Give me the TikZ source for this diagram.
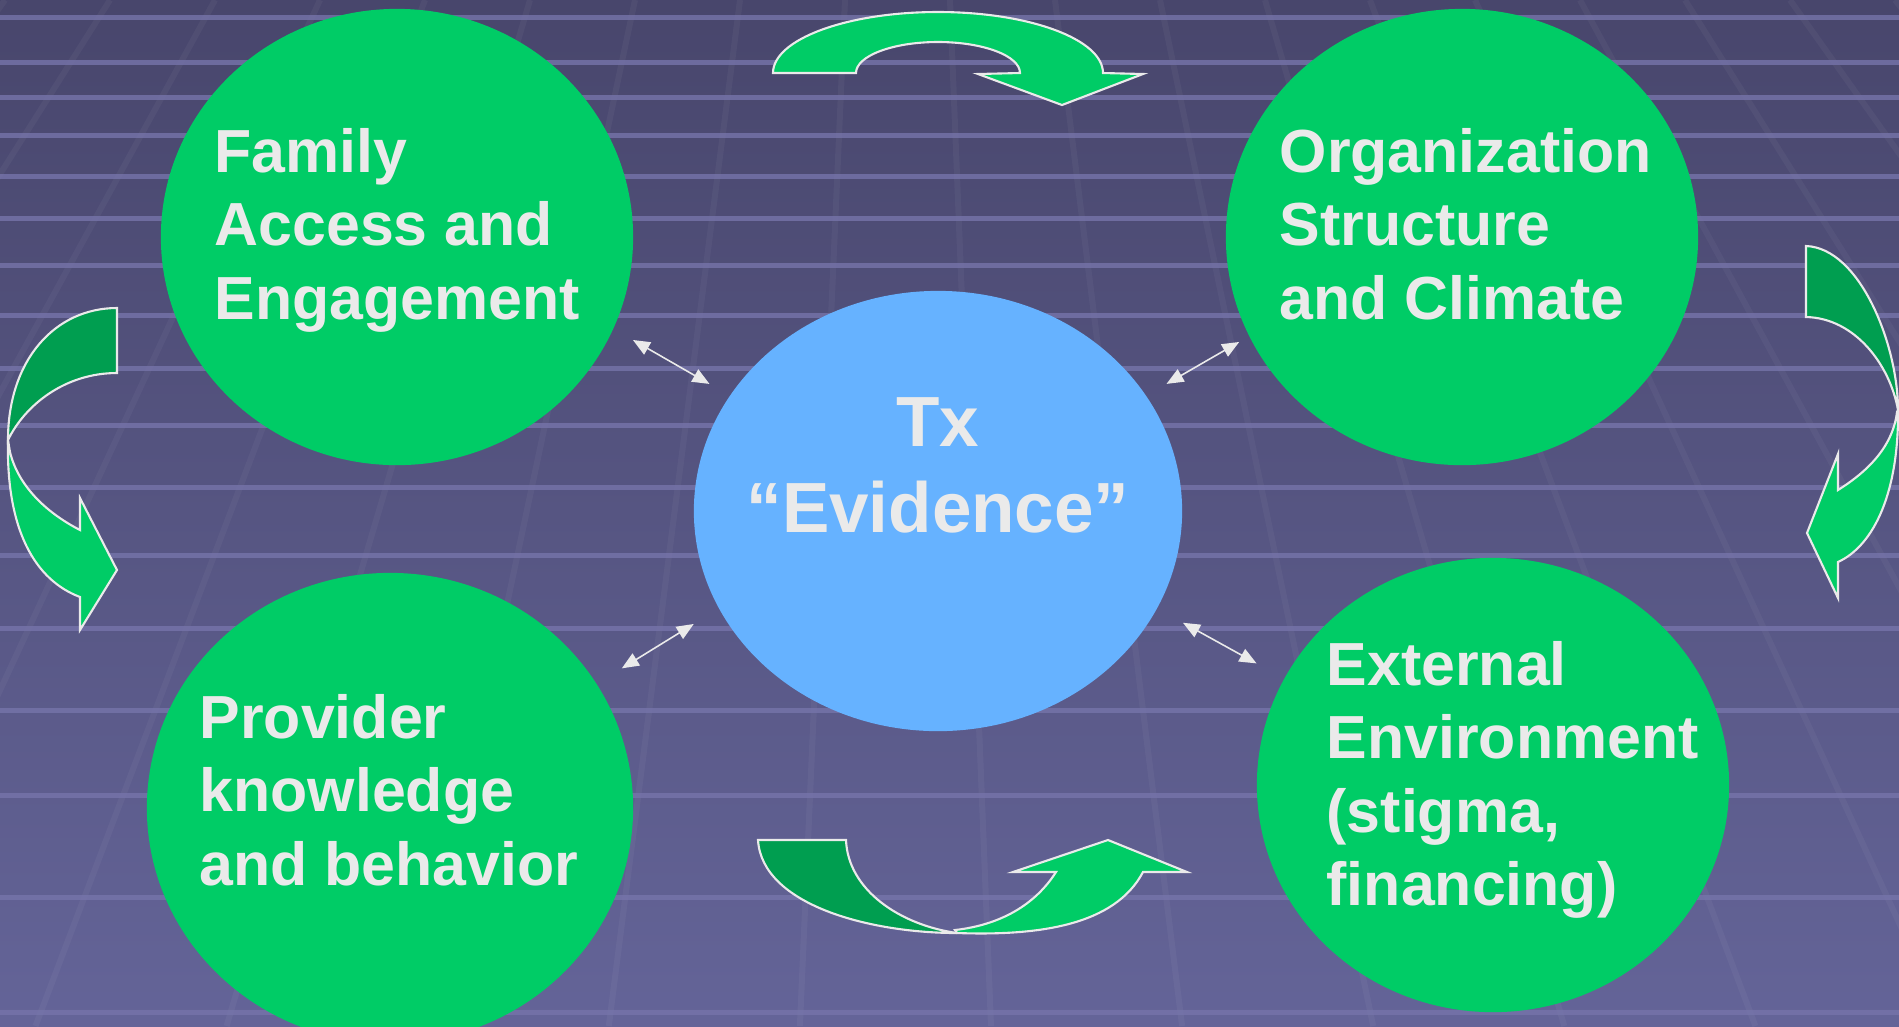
\documentclass[tikz,border=0pt]{standalone}
\usepackage{fontspec}
\setmainfont{Liberation Sans}
\usetikzlibrary{shapes.geometric, arrows.meta}

\definecolor{bgtop}{RGB}{72,70,108}
\definecolor{bgbot}{RGB}{100,100,152}
\definecolor{gridline}{RGB}{118,116,170}
\definecolor{bubgreen}{RGB}{0,204,102}
\definecolor{darkgreen}{RGB}{0,158,80}
\definecolor{evblue}{RGB}{102,178,255}
\definecolor{paletext}{RGB}{234,234,234}

\tikzset{
  bubble/.style={ellipse, fill=bubgreen, inner sep=0pt},
  bubtext/.style={text=paletext, align=left, inner sep=0pt, font=\fontsize{17.3pt}{20.8pt}\selectfont\bfseries},
  evtext/.style={text=paletext, align=center, inner sep=0pt, font=\fontsize{20.2pt}{24.5pt}\selectfont\bfseries},
  link/.style={{Triangle[length=0.17cm,width=0.14cm]}-{Triangle[length=0.17cm,width=0.14cm]}, draw=paletext, line width=0.45pt},
  cyc/.style={fill=bubgreen, draw=paletext, line width=0.6pt},
  cycback/.style={cyc, fill=darkgreen},
}

\begin{document}
\begin{tikzpicture}[x=0.01cm, y=-0.01cm]
        % background
        \useasboundingbox (0,0) rectangle (1899,1026);
        \fill[top color=bgtop, bottom color=bgbot] (0,0) rectangle (1899,1026);
        \begin{scope}
            \clip (0,0) rectangle (1899,1026);
            \foreach \t in {-100,5,...,2000}
                \draw[white, opacity=0.04, line width=0.06cm] (\t,0) -- ({900+1.82*(\t-900)},1026);
            \foreach \h in {17,62,97,135,176,218,265,315,368,425,487,555,628,710,795,897,1012}
                \draw[gridline, opacity=0.8, line width=0.05cm] (0,\h) -- (1899,\h);
        \end{scope}

        % nodes
        \node (family) [bubble, minimum width=4.72cm, minimum height=4.56cm] at (397,237) {};
        \node (org) [bubble, minimum width=4.72cm, minimum height=4.56cm] at (1462,237) {};
        \node (provider) [bubble, minimum width=4.86cm, minimum height=4.70cm] at (390,808) {};
        \node (external) [bubble, minimum width=4.72cm, minimum height=4.54cm] at (1493,785) {};
        \node (evidence) [ellipse, fill=evblue, inner sep=0pt, minimum width=4.88cm, minimum height=4.40cm] at (938,511) {};

        % labels
        \node (familytxt) [bubtext, anchor=north west] at (214,128) {Family\\Access and\\Engagement};
        \node (orgtxt) [bubtext, anchor=north west] at (1279,128) {Organization\\Structure\\and Climate};
        \node (providertxt) [bubtext, anchor=north west] at (199,694) {Provider\\knowledge\\and behavior};
        \node (externaltxt) [bubtext, anchor=north west] at (1326,641) {External\\Environment\\(stigma,\\financing)};
        \node (evidencetxt) [evtext, anchor=north] at (938,397) {Tx\\“Evidence”};

        % edges
        \draw[link, shorten <=0.22cm, shorten >=0.23cm] (family.-23.6) -- (evidence.151);
        \draw[link, shorten <=0.23cm, shorten >=0.11cm] (evidence.29) -- (org.205);
        \draw[link, shorten <=0.29cm, shorten >=0.29cm] (provider.31.6) -- (evidence.204.5);
        \draw[link, shorten <=0.29cm, shorten >=0.31cm] (evidence.-24.5) -- (external.153.4);

        % cycle arrows
        \draw[cyc] (773,73) arc[start angle=180, end angle=360, x radius=165, y radius=61]
            -- (1143,74) -- (1062,105) -- (978,74) -- (1020,73)
            arc[start angle=360, end angle=180, x radius=82, y radius=31] -- cycle;

        \draw[cycback] (1806,246) .. controls (1860,248) and (1898,345) .. (1898,410)
            .. controls (1890,365) and (1855,318) .. (1806,317) -- cycle;
        \draw[cyc] (1898,410) .. controls (1899,490) and (1875,545) .. (1838,562)
            -- (1838,598) -- (1807,533) -- (1838,454) -- (1838,490)
            .. controls (1870,470) and (1893,445) .. (1897,412) -- cycle;

        \draw[cycback] (758,840) .. controls (762,905) and (870,933) .. (957,933)
            .. controls (900,925) and (848,890) .. (846,840) -- cycle;
        \draw[cyc] (957,933) .. controls (1040,936) and (1115,925) .. (1143,872)
            -- (1187,872) -- (1108,840) -- (1013,872) -- (1056,872)
            .. controls (1035,905) and (1000,925) .. (955,930) -- cycle;

        \draw[cycback] (117,308) .. controls (55,308) and (8,360) .. (8,440)
            .. controls (25,405) and (65,373) .. (117,373) -- cycle;
        \draw[cyc] (8,440) .. controls (6,530) and (35,580) .. (80,597)
            -- (80,630) -- (117,570) -- (80,498) -- (80,530)
            .. controls (45,512) and (18,485) .. (10,452) -- cycle;
    \end{tikzpicture}
\end{document}
